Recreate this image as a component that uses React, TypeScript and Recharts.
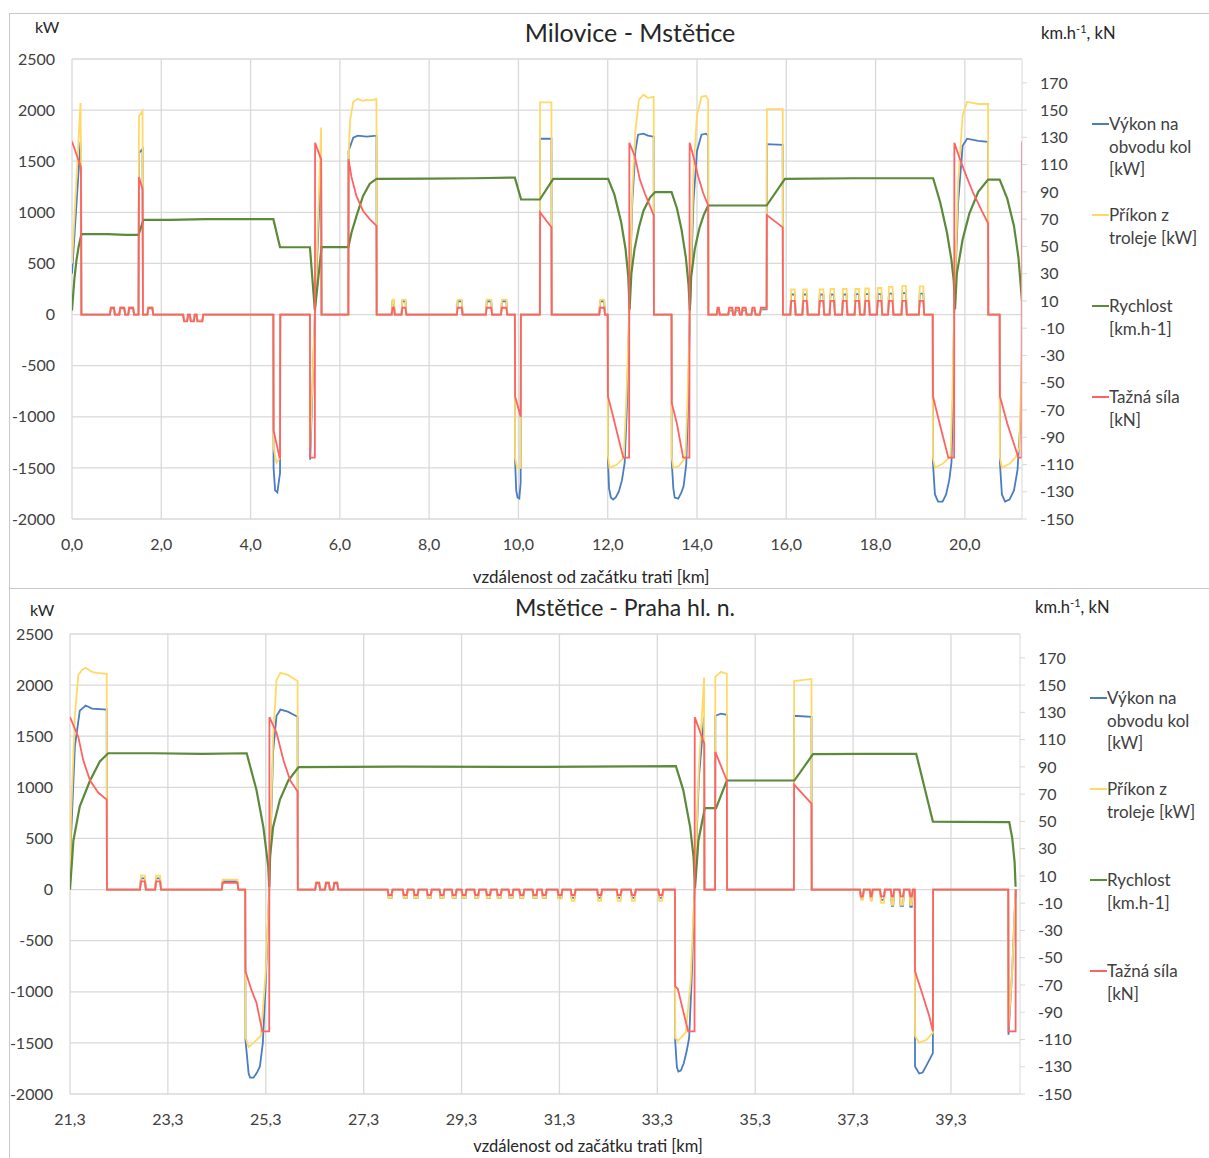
import React from 'react';
import { LineChart, Line, XAxis, YAxis, CartesianGrid } from 'recharts';

type Pt = [number, number];
// start km, end km, traction kN, input kW, wheel power kW
type Bump = [number, number, number, number, number];

// ---------- Milovice - Mstětice (km 0 – 21.3) ----------
const topTicks = [0, 2, 4, 6, 8, 10, 12, 14, 16, 18, 20];

const topSpeed: Pt[] = [
  [0, 3], [0.05, 25], [0.1, 40], [0.15, 50], [0.21, 59], [0.8, 59], [1.2, 58.5], [1.49, 58.5],
  [1.6, 69.5], [2.2, 69.5], [3.0, 70], [4.51, 70], [4.66, 49.4], [5.33, 49.4], [5.44, 3],
  [5.59, 49.5], [6.19, 49.5], [6.26, 60], [6.37, 72], [6.52, 87], [6.67, 96], [6.82, 99.6],
  [8.0, 99.8], [9.0, 100], [9.92, 100.5], [10.06, 84.4], [10.48, 84.4], [10.78, 99.6],
  [12.01, 99.6], [12.15, 88], [12.3, 68], [12.4, 48], [12.46, 28], [12.49, 4], [12.53, 30],
  [12.6, 48], [12.7, 64], [12.8, 76], [12.95, 86], [13.06, 89.8], [13.43, 89.8], [13.55, 78],
  [13.65, 63], [13.75, 42], [13.81, 22], [13.84, 3], [13.87, 28], [13.95, 48], [14.05, 63],
  [14.15, 73], [14.25, 80], [15.56, 80], [15.97, 99.6], [17.5, 100], [19.29, 100], [19.45, 82],
  [19.6, 60], [19.7, 40], [19.75, 25], [19.78, 4], [19.82, 30], [19.95, 55], [20.1, 74],
  [20.3, 90], [20.52, 99], [20.78, 99], [20.95, 85], [21.1, 65], [21.2, 42], [21.28, 10],
];

const topForce: Pt[] = [
  [0, 127], [0.2, 108], [0.21, 0],
  [1.49, 0], [1.5, 101], [1.58, 92], [1.59, 0],
  [4.51, 0], [4.515, -85], [4.65, -105], [4.66, -105], [4.665, 0],
  [5.33, 0], [5.335, -105], [5.44, -105], [5.445, 126], [5.58, 114], [5.59, 0],
  [6.19, 0], [6.195, 114], [6.26, 101], [6.37, 87], [6.52, 76], [6.67, 70], [6.82, 65], [6.825, 0],
  [9.92, 0], [9.925, -60], [10.05, -75], [10.055, 0],
  [10.48, 0], [10.485, 75], [10.74, 64], [10.745, 0],
  [12.0, 0], [12.005, -60], [12.1, -72], [12.25, -92], [12.35, -105], [12.48, -105], [12.485, 126],
  [12.61, 116], [12.72, 99], [12.83, 89], [12.93, 81], [13.03, 73], [13.035, 0],
  [13.43, 0], [13.435, -65], [13.55, -80], [13.69, -105], [13.83, -105], [13.835, 126],
  [13.92, 116], [14.03, 101], [14.14, 89], [14.25, 80], [14.255, 0],
  [15.41, 0], [15.43, 5], [15.56, 5], [15.565, 73], [15.92, 64], [15.925, 0],
  [19.28, 0], [19.285, -60], [19.45, -82], [19.63, -105], [19.76, -105], [19.765, 126],
  [19.89, 114], [20.04, 101], [20.19, 89], [20.38, 76], [20.52, 67], [20.525, 0],
  [20.78, 0], [20.785, -60], [20.95, -80], [21.2, -105], [21.27, -105], [21.28, 127],
];

const topInput: Pt[] = [
  [0, 500], [0.19, 2070], [0.205, 1460], [0.21, 0],
  [1.49, 0], [1.5, 1940], [1.58, 1990], [1.59, 0],
  [4.51, 0], [4.515, -1300], [4.58, -1450], [4.66, -1400], [4.665, 0],
  [5.33, 0], [5.335, -1300], [5.44, 0], [5.58, 1830], [5.59, 0],
  [6.19, 0], [6.195, 1550], [6.23, 1900], [6.3, 2080], [6.4, 2110], [6.5, 2090], [6.6, 2100],
  [6.7, 2095], [6.82, 2110], [6.825, 0],
  [9.92, 0], [9.925, -1400], [9.97, -1500], [10.05, -1500], [10.055, 0],
  [10.48, 0], [10.485, 2075], [10.74, 2075], [10.745, 0],
  [12.0, 0], [12.005, -1380], [12.04, -1500], [12.2, -1470], [12.36, -1400], [12.42, -800], [12.48, 0],
  [12.55, 1200], [12.62, 1800], [12.7, 2100], [12.8, 2150], [12.9, 2120], [13.03, 2130], [13.035, 0],
  [13.43, 0], [13.435, -1400], [13.47, -1500], [13.6, -1480], [13.74, -1400], [13.79, -800], [13.84, 0],
  [13.92, 1400], [14.0, 1950], [14.1, 2130], [14.2, 2140], [14.25, 2100], [14.255, 0],
  [15.41, 0], [15.43, 60], [15.56, 60], [15.565, 2010], [15.92, 2010], [15.925, 0],
  [19.28, 0], [19.285, -1400], [19.33, -1500], [19.5, -1460], [19.68, -1390], [19.72, -800], [19.76, 0],
  [19.85, 1300], [19.95, 1950], [20.05, 2080], [20.3, 2060], [20.52, 2060], [20.525, 0],
  [20.78, 0], [20.785, -1400], [20.83, -1500], [21.0, -1460], [21.15, -1390], [21.22, -1300], [21.28, -300],
];

const topPower: Pt[] = [
  [0, 400], [0.19, 1690], [0.205, 1200], [0.21, 0],
  [1.49, 0], [1.5, 1580], [1.58, 1620], [1.59, 0],
  [4.51, 0], [4.515, -1500], [4.55, -1720], [4.6, -1740], [4.66, -1550], [4.665, 0],
  [5.33, 0], [5.335, -1420], [5.44, 0], [5.58, 1500], [5.59, 0],
  [6.19, 0], [6.195, 1600], [6.3, 1730], [6.4, 1750], [6.6, 1740], [6.82, 1750], [6.825, 0],
  [9.92, 0], [9.925, -1420], [9.95, -1720], [9.98, -1790], [10.02, -1800], [10.05, -1640], [10.055, 0],
  [10.48, 0], [10.485, 1720], [10.74, 1720], [10.745, 0],
  [12.0, 0], [12.005, -1420], [12.03, -1700], [12.07, -1790], [12.12, -1810], [12.18, -1790],
  [12.25, -1730], [12.32, -1620], [12.38, -1450], [12.43, -900], [12.48, 0],
  [12.55, 1100], [12.62, 1600], [12.68, 1760], [12.8, 1770], [12.9, 1750], [13.03, 1740], [13.035, 0],
  [13.43, 0], [13.435, -1450], [13.47, -1700], [13.5, -1790], [13.58, -1800], [13.65, -1740],
  [13.7, -1680], [13.76, -1460], [13.8, -900], [13.84, 0],
  [13.92, 1100], [14.0, 1600], [14.1, 1760], [14.2, 1770], [14.25, 1750], [14.255, 0],
  [15.41, 0], [15.43, 50], [15.56, 50], [15.565, 1667], [15.92, 1660], [15.925, 0],
  [19.28, 0], [19.285, -1450], [19.33, -1760], [19.4, -1830], [19.5, -1830], [19.58, -1760],
  [19.65, -1620], [19.7, -1450], [19.73, -900], [19.76, 0],
  [19.85, 1100], [19.95, 1650], [20.05, 1720], [20.3, 1700], [20.52, 1690], [20.525, 0],
  [20.78, 0], [20.785, -1450], [20.83, -1760], [20.9, -1830], [21.0, -1810], [21.1, -1720],
  [21.18, -1520], [21.25, -1000], [21.28, -600],
];

// short coasting pulses / braking dips
const topBumps: Bump[] = [
  [0.85, 0.96, 5, 70, 60], [1.06, 1.19, 5, 70, 60], [1.26, 1.39, 5, 70, 60], [1.69, 1.82, 5, 70, 60],
  [2.49, 2.6, -5, -60, -60], [2.64, 2.75, -5, -60, -60], [2.79, 2.94, -5, -60, -60],
  [7.16, 7.23, 5, 147, 130], [7.38, 7.49, 5, 147, 130], [8.62, 8.75, 5, 147, 130],
  [9.27, 9.41, 5, 147, 130], [9.61, 9.75, 5, 147, 130], [11.81, 11.94, 5, 147, 130],
  [14.44, 14.51, 5, 50, 40], [14.7, 14.81, 5, 50, 40], [14.85, 14.96, 5, 50, 40],
  [15.0, 15.11, 5, 50, 40], [15.22, 15.31, 5, 50, 40],
  [16.09, 16.21, 10, 245, 196], [16.36, 16.48, 10, 245, 196], [16.73, 16.85, 10, 245, 196],
  [16.97, 17.09, 10, 250, 196], [17.25, 17.37, 10, 250, 196], [17.53, 17.65, 10, 250, 200],
  [17.75, 17.87, 10, 255, 200], [18.03, 18.15, 10, 260, 200], [18.28, 18.4, 10, 270, 205],
  [18.58, 18.7, 10, 280, 210], [18.97, 19.09, 10, 275, 205],
];

// ---------- Mstětice - Praha hl. n. (km 21.3 – 40.7) ----------
const bottomTicks = [21.3, 23.3, 25.3, 27.3, 29.3, 31.3, 33.3, 35.3, 37.3, 39.3];

const bottomSpeed: Pt[] = [
  [21.3, 0], [21.37, 36], [21.5, 61], [21.71, 80], [21.91, 94], [22.08, 100], [23.0, 100],
  [24.0, 99.5], [24.91, 100], [25.11, 73], [25.25, 46], [25.35, 17], [25.37, 2], [25.39, 25],
  [25.45, 46], [25.59, 66], [25.76, 80], [25.97, 89.8], [28.0, 90.2], [31.0, 90], [33.68, 90.5],
  [33.83, 73], [33.97, 46], [34.04, 24], [34.07, 1], [34.14, 36], [34.27, 59.7], [34.5, 59.7],
  [34.72, 80], [36.1, 80], [36.48, 99.3], [37.5, 99.6], [38.59, 99.5], [38.93, 49.9],
  [39.5, 49.6], [40.49, 49.5], [40.55, 38], [40.6, 20], [40.62, 2],
];

const bottomForce: Pt[] = [
  [21.3, 126.5], [21.47, 112], [21.57, 95], [21.71, 80], [21.88, 71], [22.05, 66], [22.055, 0],
  [24.88, 0], [24.885, -60], [25.01, -74], [25.11, -83], [25.23, -104], [25.37, -104], [25.375, 126.5],
  [25.52, 115], [25.66, 95], [25.8, 80], [25.95, 72], [25.955, 0],
  [33.66, 0], [33.665, -71], [33.72, -73], [33.8, -85], [33.93, -104], [34.06, -104], [34.065, 126.5],
  [34.26, 107], [34.265, 0],
  [34.48, 0], [34.485, 101], [34.72, 80], [34.725, 0],
  [36.09, 0], [36.095, 77], [36.45, 63], [36.455, 0],
  [38.56, 0], [38.565, -60], [38.7, -75], [38.85, -92], [38.93, -104], [38.935, 0],
  [40.47, 0], [40.475, -104], [40.62, -104], [40.625, 0],
];

const bottomInput: Pt[] = [
  [21.3, 0], [21.32, 700], [21.4, 1700], [21.47, 2100], [21.55, 2150], [21.62, 2170], [21.75, 2130],
  [21.85, 2120], [22.05, 2110], [22.055, 0],
  [24.88, 0], [24.885, -1440], [24.95, -1540], [25.05, -1500], [25.2, -1430], [25.3, -800], [25.37, 0],
  [25.45, 1500], [25.52, 2050], [25.6, 2120], [25.75, 2100], [25.95, 2040], [25.955, 0],
  [33.66, 0], [33.665, -1450], [33.72, -1480], [33.88, -1400], [33.98, -900], [34.06, 0], [34.15, 1200],
  [34.255, 2075], [34.26, 0],
  [34.48, 0], [34.485, 2080], [34.6, 2130], [34.72, 2110], [34.725, 0],
  [36.09, 0], [36.095, 2040], [36.45, 2060], [36.455, 0],
  [38.56, 0], [38.565, -1430], [38.65, -1500], [38.8, -1470], [38.93, -1400], [38.935, 0],
  [40.47, 0], [40.475, -1350], [40.55, -800], [40.62, 0],
];

const bottomPower: Pt[] = [
  [21.3, 0], [21.32, 500], [21.4, 1400], [21.5, 1750], [21.62, 1800], [21.75, 1770], [22.05, 1760], [22.055, 0],
  [24.88, 0], [24.885, -1470], [24.95, -1800], [24.98, -1840], [25.05, -1840], [25.12, -1790],
  [25.18, -1730], [25.24, -1500], [25.3, -900], [25.37, 0],
  [25.45, 1350], [25.52, 1700], [25.6, 1760], [25.75, 1740], [25.95, 1690], [25.955, 0],
  [33.66, 0], [33.665, -1480], [33.7, -1740], [33.73, -1780], [33.78, -1770], [33.84, -1700],
  [33.9, -1580], [33.95, -1450], [34.0, -900], [34.06, 0],
  [34.15, 1100], [34.255, 1690], [34.26, 0],
  [34.48, 0], [34.485, 1700], [34.6, 1720], [34.72, 1710], [34.725, 0],
  [36.09, 0], [36.095, 1700], [36.45, 1690], [36.455, 0],
  [38.56, 0], [38.565, -1730], [38.65, -1800], [38.72, -1790], [38.8, -1720], [38.93, -1600], [38.935, 0],
  [40.47, 0], [40.475, -1420], [40.55, -800], [40.62, 0],
];

const bottomBumps: Bump[] = [
  [22.73, 22.85, 6, 137, 110], [23.04, 23.16, 6, 137, 110], [24.4, 24.74, 5, 98, 80],
  [26.31, 26.41, 5, 70, 60], [26.51, 26.61, 5, 70, 60], [26.68, 26.78, 5, 70, 60],
  [27.79, 27.89, -4, -80, -81], [28.1, 28.2, -4, -80, -81], [28.32, 28.42, -4, -80, -81],
  [28.59, 28.69, -4, -80, -81], [28.85, 28.95, -4, -80, -81], [29.1, 29.2, -4, -80, -81],
  [29.3, 29.4, -4, -80, -81], [29.56, 29.66, -4, -80, -81], [29.8, 29.9, -4, -80, -81],
  [30.02, 30.12, -4, -80, -81], [30.26, 30.36, -4, -80, -81], [30.48, 30.58, -4, -80, -81],
  [30.75, 30.85, -4, -80, -81], [30.94, 31.04, -4, -80, -81], [31.26, 31.36, -4, -90, -81],
  [31.53, 31.63, -4, -110, -81], [32.07, 32.17, -4, -110, -81], [32.47, 32.57, -4, -110, -81],
  [32.76, 32.86, -4, -110, -81], [33.32, 33.42, -4, -110, -81],
  [37.44, 37.52, -5, -100, -80], [37.64, 37.7, -5, -110, -90], [37.85, 37.95, -5, -130, -100],
  [38.07, 38.14, -5, -150, -160], [38.25, 38.34, -5, -150, -160], [38.45, 38.52, -5, -150, -170],
];

const leftTicks = [-2000, -1500, -1000, -500, 0, 500, 1000, 1500, 2000, 2500];
const rightTicks = [-150, -130, -110, -90, -70, -50, -30, -10, 10, 30, 50, 70, 90, 110, 130, 150, 170];

const BLUE = '#4a7cc2';
const YELLOW = '#ffd966';
const GREEN = '#5a8a3a';
const RED = '#ff6262';
const GRID = '#d9d9d9';
const TEXT = '#404040';
const FONT = "Lato, 'Open Sans', sans-serif";

function series(main: Pt[], bumps: Bump[], col: number) {
  const pts = main.map(([x, y]) => ({ x, y }));
  bumps.forEach((b) => {
    const h = b[col];
    pts.push({ x: b[0], y: 0 }, { x: b[0] + 0.02, y: h }, { x: b[1] - 0.02, y: h }, { x: b[1], y: 0 });
  });
  return pts.sort((a, b) => a.x - b.x);
}

const fmtKm = (v: number) => v.toFixed(1).replace('.', ',');

interface PanelProps {
  top: number;
  height: number;
  plotLeft: number;
  xDomain: [number, number];
  xTicks: number[];
  speed: Pt[];
  force: Pt[];
  input: Pt[];
  power: Pt[];
  bumps: Bump[];
}

function Panel(p: PanelProps) {
  const axisH = p.height - 46 - 460;
  return (
    <div style={{ position: 'absolute', left: 9, top: p.top }}>
      <LineChart
        width={1200}
        height={p.height}
        margin={{ top: 46, right: 137 + (72 - p.plotLeft), bottom: 0, left: 0 }}
      >
        <CartesianGrid yAxisId="left" stroke={GRID} strokeWidth={1.3} verticalValues={p.xTicks} />
        <XAxis
          type="number"
          dataKey="x"
          domain={p.xDomain}
          ticks={p.xTicks}
          allowDataOverflow
          tickFormatter={fmtKm}
          height={axisH}
          axisLine={false}
          tickLine={false}
          tickMargin={14}
          tick={{ fill: TEXT, fontSize: 16, fontFamily: FONT }}
        />
        <YAxis
          yAxisId="left"
          type="number"
          domain={[-2000, 2500]}
          ticks={leftTicks}
          allowDataOverflow
          width={p.plotLeft - 9}
          axisLine={false}
          tickLine={false}
          tickMargin={11}
          tick={{ fill: TEXT, fontSize: 16, fontFamily: FONT }}
        />
        <YAxis
          yAxisId="right"
          orientation="right"
          type="number"
          domain={[-150, 187.5]}
          ticks={rightTicks}
          allowDataOverflow
          width={50}
          axisLine={{ stroke: GRID }}
          tickLine={{ stroke: GRID }}
          tickSize={5}
          tickMargin={13}
          tick={{ fill: TEXT, fontSize: 16, fontFamily: FONT, textAnchor: 'start' }}
        />
        <Line yAxisId="left" data={series(p.power, p.bumps, 4)} dataKey="y" type="linear" stroke={BLUE} strokeWidth={1.8} dot={false} isAnimationActive={false} />
        <Line yAxisId="left" data={series(p.input, p.bumps, 3)} dataKey="y" type="linear" stroke={YELLOW} strokeWidth={1.8} dot={false} isAnimationActive={false} />
        <Line yAxisId="right" data={series(p.speed, [], 2)} dataKey="y" type="linear" stroke={GREEN} strokeWidth={2.2} dot={false} isAnimationActive={false} />
        <Line yAxisId="right" data={series(p.force, p.bumps, 2)} dataKey="y" type="linear" stroke={RED} strokeWidth={1.8} dot={false} isAnimationActive={false} />
      </LineChart>
    </div>
  );
}

const legendItems = [
  { color: BLUE, lines: ['Výkon na', 'obvodu kol', '[kW]'] },
  { color: YELLOW, lines: ['Příkon z', 'troleje [kW]'] },
  { color: GREEN, lines: ['Rychlost', '[km.h-1]'] },
  { color: RED, lines: ['Tažná síla', '[kN]'] },
];

function Legend({ left, top }: { left: number; top: number }) {
  return (
    <>
      {legendItems.map((it, i) => (
        <div key={i} style={{ position: 'absolute', left, top: top + i * 91, display: 'flex' }}>
          <div style={{ width: 17, height: 2, background: it.color, marginTop: 10 }} />
          <div style={{ fontSize: 17, lineHeight: '22.5px', color: TEXT, whiteSpace: 'nowrap' }}>
            {it.lines.map((l, j) => (
              <div key={j}>{l}</div>
            ))}
          </div>
        </div>
      ))}
    </>
  );
}

const abs = (left: number, top: number, size: number, extra: React.CSSProperties = {}): React.CSSProperties => ({
  position: 'absolute',
  left,
  top,
  fontSize: size,
  lineHeight: `${size + 4}px`,
  color: '#262626',
  whiteSpace: 'nowrap',
  ...extra,
});

const Units = () => (
  <span>
    km.h<sup style={{ fontSize: 11, verticalAlign: 'top', lineHeight: '11px' }}>-1</sup>, kN
  </span>
);

export default function App() {
  return (
    <div
      style={{
        position: 'absolute',
        left: 0,
        top: 0,
        width: 1209,
        height: 1158,
        overflow: 'hidden',
        background: '#fff',
        fontFamily: FONT,
      }}
    >
      {/* frames */}
      <div style={{ position: 'absolute', left: 9, top: 13, width: 1210, height: 574, border: '1px solid #c8c8c8', borderRight: 'none' }} />
      <div style={{ position: 'absolute', left: 9, top: 588, width: 1210, height: 580, borderLeft: '1px solid #c8c8c8', borderTop: '1px solid #c8c8c8' }} />

      <Panel top={13} height={575} plotLeft={72} xDomain={[0, 21.28]} xTicks={topTicks}
        speed={topSpeed} force={topForce} input={topInput} power={topPower} bumps={topBumps} />
      <Panel top={588} height={570} plotLeft={70} xDomain={[21.3, 40.71]} xTicks={bottomTicks}
        speed={bottomSpeed} force={bottomForce} input={bottomInput} power={bottomPower} bumps={bottomBumps} />

      {/* top panel texts */}
      <div style={abs(630, 18, 25, { transform: 'translateX(-50%)' })}>Milovice - Mstětice</div>
      <div style={abs(35, 17, 16)}>kW</div>
      <div style={abs(1041, 23, 16.5)}><Units /></div>
      <div style={abs(591, 566, 17, { transform: 'translateX(-50%)' })}>vzdálenost od začátku trati [km]</div>
      <Legend left={1092} top={113} />

      {/* bottom panel texts */}
      <div style={abs(625, 594, 23, { transform: 'translateX(-50%)' })}>Mstětice - Praha hl. n.</div>
      <div style={abs(30, 600, 16)}>kW</div>
      <div style={abs(1035, 597, 16.5)}><Units /></div>
      <div style={{ ...abs(588, 1137, 16.5, { transform: 'translateX(-50%)' }), lineHeight: '19px' }}>
        vzdálenost od začátku trati [km]
      </div>
      <Legend left={1090} top={687} />
    </div>
  );
}
